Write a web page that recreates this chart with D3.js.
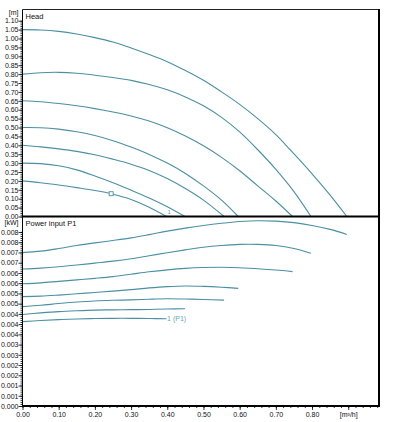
<!DOCTYPE html>
<html><head><meta charset="utf-8">
<script src="https://cdn.jsdelivr.net/npm/d3@7"></script>
<style>
html,body{margin:0;padding:0;background:#fff;}
svg{display:block;font-family:"Liberation Sans",Arial,sans-serif;}
</style></head>
<body>
<svg id="c" width="394" height="422"></svg>
<script>
// ---------- data ----------
const flowTicks = [0.0,0.1,0.2,0.3,0.4,0.5,0.6,0.7,0.8];
const flowUnit = "[m³/h]";
const headTicks = [0.00,0.05,0.10,0.15,0.20,0.25,0.30,0.35,0.40,0.45,0.50,0.55,0.60,0.65,0.70,0.75,0.80,0.85,0.90,0.95,1.00,1.05,1.10];
const powerTickValues = [0,0.000471,0.000941,0.001412,0.001882,0.002353,0.002824,0.003294,0.003765,0.004235,0.004706,0.005176,0.005647,0.006118,0.006588,0.007059,0.007529,0.008];
const powerTickLabels = ["0.000","0.001","0.001","0.002","0.002","0.003","0.003","0.004","0.004","0.004","0.005","0.005","0.006","0.006","0.007","0.007","0.008","0.008"];

// head curves (flow q, head h)
const headQ1 = [0,0.05,0.1,0.15,0.2,0.25,0.3,0.35,0.4,0.45,0.5,0.55,0.6,0.65,0.7,0.74,0.8,0.85,0.896];
const headH1 = [1.05,1.048,1.04,1.025,1.005,0.98,0.947,0.91,0.87,0.82,0.765,0.70,0.63,0.55,0.46,0.374,0.24,0.12,0];
const headQ2 = [0,0.05,0.1,0.15,0.2,0.25,0.3,0.35,0.4,0.45,0.5,0.55,0.6,0.65,0.7,0.75,0.797];
const headH2 = [0.80,0.808,0.81,0.805,0.794,0.781,0.765,0.742,0.712,0.672,0.622,0.557,0.475,0.375,0.265,0.14,0];
const headQ3 = [0,0.05,0.1,0.15,0.2,0.25,0.3,0.35,0.4,0.45,0.5,0.55,0.6,0.65,0.7,0.746];
const headH3 = [0.65,0.645,0.635,0.622,0.606,0.587,0.565,0.536,0.498,0.452,0.397,0.332,0.257,0.172,0.087,0];
const headQ4 = [0,0.05,0.1,0.15,0.2,0.25,0.3,0.35,0.4,0.45,0.5,0.55,0.596];
const headH4 = [0.50,0.499,0.491,0.476,0.455,0.426,0.39,0.349,0.30,0.242,0.172,0.092,0];
const headQ5 = [0,0.05,0.1,0.15,0.2,0.25,0.3,0.35,0.4,0.45,0.5,0.557];
const headH5 = [0.40,0.391,0.38,0.366,0.347,0.322,0.294,0.259,0.213,0.157,0.092,0];
const headQ6 = [0,0.05,0.1,0.15,0.2,0.25,0.3,0.35,0.4,0.449];
const headH6 = [0.30,0.297,0.285,0.262,0.228,0.19,0.148,0.104,0.055,0];
const headQ7 = [0,0.05,0.1,0.15,0.2,0.245,0.3,0.35,0.398];
const headH7 = [0.20,0.19,0.177,0.162,0.146,0.128,0.096,0.052,0];
const dutyPoint = {q:0.245, h:0.128};
const curveLabel = "1";

// power curves (flow q, power P1 in kW)
const powQ1 = [0,0.05,0.1,0.15,0.2,0.25,0.3,0.35,0.4,0.45,0.5,0.55,0.6,0.65,0.7,0.75,0.8,0.85,0.896];
const powP1 = [0.00705,0.00712,0.00724,0.00738,0.0075,0.00761,0.00773,0.00788,0.00804,0.00818,0.0083,0.0084,0.00848,0.00852,0.0085,0.00843,0.0083,0.00812,0.00789];
const powQ2 = [0,0.05,0.1,0.15,0.2,0.25,0.3,0.35,0.4,0.45,0.5,0.55,0.6,0.65,0.7,0.75,0.797];
const powP2 = [0.0063,0.00634,0.0064,0.00648,0.00657,0.00666,0.00677,0.00691,0.00705,0.00718,0.0073,0.00738,0.00743,0.00743,0.00738,0.00724,0.00702];
const powQ3 = [0,0.05,0.1,0.15,0.2,0.25,0.3,0.35,0.4,0.45,0.5,0.55,0.6,0.65,0.7,0.746];
const powP3 = [0.00562,0.00566,0.00573,0.0058,0.00587,0.00595,0.00606,0.00617,0.00626,0.00633,0.00637,0.00638,0.00636,0.00631,0.00625,0.00618];
const powQ4 = [0,0.05,0.1,0.15,0.2,0.25,0.3,0.35,0.4,0.45,0.5,0.55,0.596];
const powP4 = [0.00503,0.00505,0.0051,0.00516,0.00522,0.00528,0.00535,0.00543,0.00549,0.00552,0.0055,0.00546,0.00541];
const powQ5 = [0,0.05,0.1,0.15,0.2,0.25,0.3,0.35,0.4,0.45,0.5,0.557];
const powP5 = [0.00457,0.00463,0.00471,0.00478,0.00483,0.00486,0.00488,0.00491,0.00493,0.00492,0.0049,0.00487];
const powQ6 = [0,0.05,0.1,0.15,0.2,0.25,0.3,0.35,0.4,0.449];
const powP6 = [0.00421,0.00428,0.00434,0.00438,0.00441,0.00442,0.00443,0.00444,0.00446,0.00447];
const powQ7 = [0,0.05,0.1,0.15,0.2,0.25,0.3,0.35,0.398];
const powP7 = [0.00388,0.00393,0.00397,0.004,0.00402,0.00403,0.00403,0.00402,0.00401];
const powerLabel = "1 (P1)";

const headSeries = [[headQ1,headH1],[headQ2,headH2],[headQ3,headH3],[headQ4,headH4],[headQ5,headH5],[headQ6,headH6],[headQ7,headH7]];
const powerSeries = [[powQ1,powP1],[powQ2,powP2],[powQ3,powP3],[powQ4,powP4],[powQ5,powP5],[powQ6,powP6],[powQ7,powP7]];

// ---------- layout ----------
const L = 22.5, R = 379, T = 9.5, MID = 216.5, B = 406;
const lineColor = "#4a90a3";
const svg = d3.select("#c");

const x = d3.scaleLinear().domain([0, 0.985]).range([L, R]);
const yH = d3.scaleLinear().domain([0, 1.163]).range([MID, T]);
const yP = d3.scaleLinear().domain([0, 0.008713]).range([B, MID]);

// clip paths
const defs = svg.append("defs");
defs.append("clipPath").attr("id","ch").append("rect").attr("x",L).attr("y",T).attr("width",R-L).attr("height",MID-T+1);
defs.append("clipPath").attr("id","cp").append("rect").attr("x",L).attr("y",MID).attr("width",R-L).attr("height",B-MID);

// curves
const lineH = d3.line().x(d=>x(d[0])).y(d=>yH(d[1])).curve(d3.curveCatmullRom.alpha(0.5));
const lineP = d3.line().x(d=>x(d[0])).y(d=>yP(d[1])).curve(d3.curveCatmullRom.alpha(0.5));

const gH = svg.append("g").attr("clip-path","url(#ch)");
headSeries.forEach(([qs,hs])=>{
  gH.append("path").attr("d", lineH(qs.map((q,i)=>[q,hs[i]])))
    .attr("fill","none").attr("stroke",lineColor).attr("stroke-width",1.1);
});
const gP = svg.append("g").attr("clip-path","url(#cp)");
powerSeries.forEach(([qs,ps])=>{
  gP.append("path").attr("d", lineP(qs.map((q,i)=>[q,ps[i]])))
    .attr("fill","none").attr("stroke",lineColor).attr("stroke-width",1.1);
});

// duty point marker
svg.append("rect").attr("x",x(dutyPoint.q)-2).attr("y",yH(dutyPoint.h)-2)
  .attr("width",4).attr("height",4).attr("fill","#fff").attr("stroke",lineColor).attr("stroke-width",0.9);

// curve labels
svg.append("text").attr("x",x(headQ7[headQ7.length-1])+1).attr("y",MID-2.5)
  .attr("font-size",6).attr("fill","#6aa0ae").text(curveLabel);
svg.append("text").attr("x",x(powQ7[powQ7.length-1])+0.5).attr("y",yP(powP7[powP7.length-1])+2.5)
  .attr("font-size",7).attr("fill","#6aa6b5").text(powerLabel);

// frame
svg.append("line").attr("x1",L).attr("x2",R).attr("y1",T).attr("y2",T).attr("stroke","#222").attr("stroke-width",1);
svg.append("line").attr("x1",L).attr("x2",L).attr("y1",T).attr("y2",B).attr("stroke","#000").attr("stroke-width",1);
svg.append("line").attr("x1",R).attr("x2",R).attr("y1",T-0.5).attr("y2",B+1).attr("stroke","#000").attr("stroke-width",2);
svg.append("line").attr("x1",L).attr("x2",R).attr("y1",MID).attr("y2",MID).attr("stroke","#000").attr("stroke-width",2);
svg.append("line").attr("x1",L).attr("x2",R).attr("y1",B).attr("y2",B).attr("stroke","#000").attr("stroke-width",2);

// axes
const fs = 7;
function styleAxis(g){
  g.select(".domain").remove();
  g.selectAll("line").attr("stroke","#000").attr("stroke-width",0.8);
  g.selectAll("text").attr("font-size",fs).attr("fill","#111").attr("font-family","Liberation Sans, Arial, sans-serif");
}
// head axis minor ticks
const headMinor = d3.range(0, 111).map(i=>i/100);
svg.append("g").attr("transform",`translate(${L},0)`)
  .call(d3.axisLeft(yH).tickValues(headMinor).tickSize(2).tickFormat(""))
  .call(styleAxis);
svg.append("g").attr("transform",`translate(${L},0)`)
  .call(d3.axisLeft(yH).tickValues(headTicks).tickSize(4).tickPadding(0).tickFormat(d3.format(".2f")))
  .call(styleAxis);
// power axis
const pStep = powerTickValues[1];
const powMinor = d3.range(0, 86).map(i=>i*pStep/5);
svg.append("g").attr("transform",`translate(${L},0)`)
  .call(d3.axisLeft(yP).tickValues(powMinor).tickSize(2).tickFormat(""))
  .call(styleAxis);
svg.append("g").attr("transform",`translate(${L},0)`)
  .call(d3.axisLeft(yP).tickValues(powerTickValues).tickSize(4).tickPadding(0).tickFormat((d,i)=>powerTickLabels[i]))
  .call(styleAxis);
// x axis
const flowMinor = d3.range(0, 50).map(i=>i*0.02);
svg.append("g").attr("transform",`translate(0,${B})`)
  .call(d3.axisBottom(x).tickValues(flowMinor).tickSize(2).tickFormat(""))
  .call(styleAxis);
svg.append("g").attr("transform",`translate(0,${B})`)
  .call(d3.axisBottom(x).tickValues(flowTicks.concat([0.9])).tickSize(4).tickPadding(2)
    .tickFormat(d=> d>0.85 ? flowUnit : d3.format(".2f")(d)))
  .call(styleAxis);

// unit labels & titles
svg.append("text").attr("x",L-4).attr("y",14.5).attr("text-anchor","end").attr("font-size",fs).attr("fill","#111").text("[m]");
svg.append("text").attr("x",L-4).attr("y",225).attr("text-anchor","end").attr("font-size",fs).attr("fill","#111").text("[kW]");
svg.append("text").attr("x",L+3).attr("y",18.5).attr("font-size",7.5).attr("fill","#111").text("Head");
svg.append("text").attr("x",L+3).attr("y",226).attr("font-size",7.5).attr("fill","#111").text("Power input P1");
</script>
</body></html>
